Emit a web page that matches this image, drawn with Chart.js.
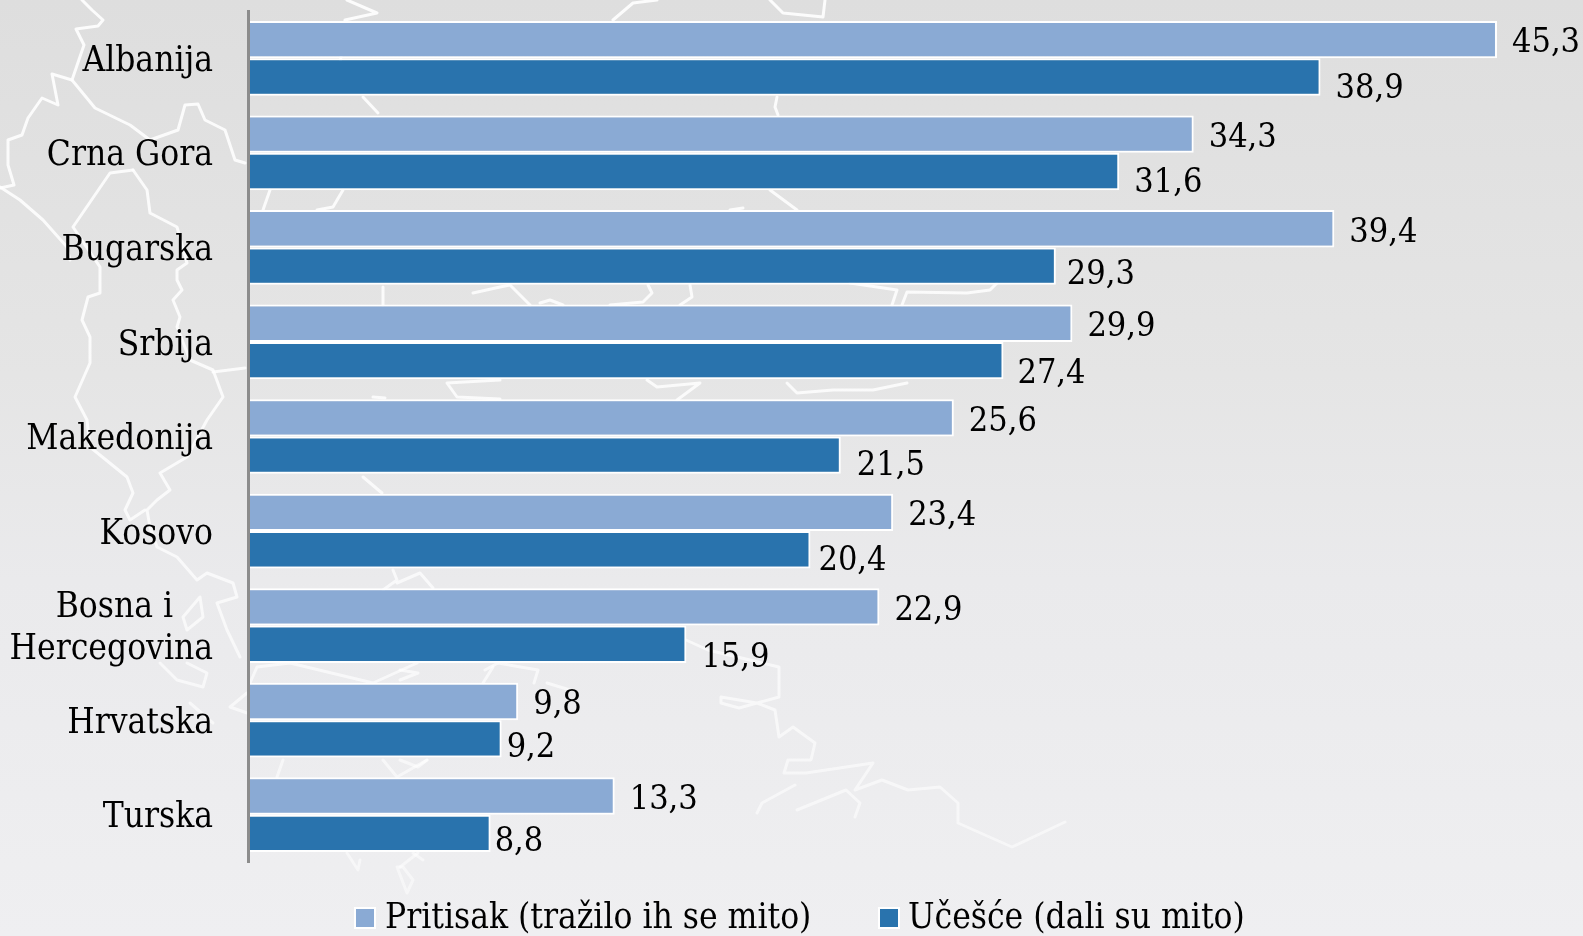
<!DOCTYPE html>
<html>
<head>
<meta charset="utf-8">
<script src="https://cdn.jsdelivr.net/npm/chart.js@4"></script>
<style>
html, body { margin: 0; padding: 0; overflow: hidden; }
body { width: 1583px; height: 936px; background: linear-gradient(#dedede, #e5e5e5 40%, #eaeaec 62%, #efeff1); }
#map, #wrap { position: absolute; left: 0; top: 0; width: 1583px; height: 936px; }
#map { filter: blur(0.6px); }
#map polyline { fill: none; stroke: url(#fade); stroke-width: 3; stroke-linejoin: round; stroke-linecap: round; }
</style>
</head>
<body>
<!-- the faint map behind the chart, only decoration -->
<svg id="map" viewBox="0 0 1583 936">
<defs>
<linearGradient id="fade" gradientUnits="userSpaceOnUse" x1="0" y1="0" x2="0" y2="936">
<stop offset="0" stop-color="#fff" stop-opacity="0.9"/>
<stop offset="0.5" stop-color="#fff" stop-opacity="0.8"/>
<stop offset="1" stop-color="#fff" stop-opacity="0.45"/>
</linearGradient>
</defs>
<polyline points="82,0 92,10 103,20 98,26 76,29 84,45 72,80 52,74 58,105 42,98 28,118 22,135 8,140 8,165 14,185 0,188"/>
<polyline points="72,80 95,108 130,125 150,140 178,130 185,105 198,104 205,120 225,130 235,160 245,163"/>
<polyline points="133,170 110,173 73,227 100,267 100,293 88,297 82,320 90,337 90,363 75,397 87,420 90,447 127,477 133,493 125,510 130,520 145,510"/>
<polyline points="133,170 147,190 150,213 177,227 187,263 177,270 177,280 182,290 173,300 180,317 177,327 190,360 213,370 223,397 207,420 187,457 160,473 170,490 157,500 147,510 150,527 157,547 177,557 197,580 207,573 233,583 237,597 217,603 227,630 240,657"/>
<polyline points="213,372 245,368"/>
<polyline points="0,187 20,200 43,220 67,247 70,260"/>
<polyline points="347,0 377,13 345,20 340,65"/>
<polyline points="363,97 378,113"/>
<polyline points="270,190 263,210"/>
<polyline points="343,190 333,207 317,210"/>
<polyline points="383,287 383,305"/>
<polyline points="473,293 500,287 510,285 530,305"/>
<polyline points="540,303 550,300 563,305"/>
<polyline points="500,380 447,383 457,397 500,399"/>
<polyline points="373,397 385,398"/>
<polyline points="363,477 382,493"/>
<polyline points="200,597 183,617 187,630 203,617 200,597"/>
<polyline points="160,663 177,680 203,687 207,673 187,663"/>
<polyline points="190,703 213,723"/>
<polyline points="247,693 230,707 247,713"/>
<polyline points="393,570 397,580 383,590"/>
<polyline points="397,583 420,573 433,588"/>
<polyline points="250,683 257,667 290,663 373,683 417,663"/>
<polyline points="483,683 493,667"/>
<polyline points="283,760 277,777"/>
<polyline points="383,760 397,777 427,760"/>
<polyline points="347,853 358,870 360,860"/>
<polyline points="397,867 407,893 413,880 403,867 397,867"/>
<polyline points="413,853 423,860"/>
<polyline points="613,20 633,3 657,0"/>
<polyline points="770,0 783,13 823,17 825,0"/>
<polyline points="777,97 775,107 778,115"/>
<polyline points="770,190 797,210"/>
<polyline points="730,210 743,208"/>
<polyline points="610,305 643,302 652,293 648,285"/>
<polyline points="690,285 692,297 680,305"/>
<polyline points="850,283 897,290 892,305"/>
<polyline points="902,305 907,292 967,293 990,290 997,283"/>
<polyline points="647,380 657,387 700,383 677,400"/>
<polyline points="787,383 797,393 833,390 873,390 907,383"/>
<polyline points="686,640 708,650 779,667 779,697 757,703 721,697 721,703 739,708 757,703 775,710 779,737 793,727 815,743 811,760 788,760 784,773 806,773 873,763 855,790 882,780 908,790 940,787 958,803 958,823 1012,847 1065,822"/>
<polyline points="757,813 762,803 795,785"/>
<polyline points="797,810 846,790 860,803 855,817"/>
<polyline points="485,670 498,663 538,670 534,683"/>
<polyline points="547,683 570,690"/>
<polyline points="400,670 418,673 400,680"/>
<polyline points="400,760 418,767 427,760"/>
<polyline points="418,853 400,867"/>
</svg>
<div id="wrap"><canvas id="graph"></canvas></div>
<script>
var categories = ["Albanija", "Crna Gora", "Bugarska", "Srbija", "Makedonija", "Kosovo",
    ["Bosna i", "Hercegovina"], "Hrvatska", "Turska"];
var pritisak = [45.3, 34.3, 39.4, 29.9, 25.6, 23.4, 22.9, 9.8, 13.3];
var ucesce = [38.9, 31.6, 29.3, 27.4, 21.5, 20.4, 15.9, 9.2, 8.8];
var seriesNames = ["Pritisak (tražilo ih se mito)", "Učešće (dali su mito)"];

// the value labels in the original are hand placed, so each one gets a nudge
var nudgeDarkX = [15, 15, 11, 14, 16, 8, 15, 5, 4];
var nudgeDarkY = [12, 12, 9, 14, 11, 11, 14, 9, 9];
var legendBoxX = [356, 880];
var legendTextX = [385, 908];

var fontName = "'DejaVu Serif Condensed'";
var fontSize = 35;
var valueFontSize = 34;
var light = "#8aaad4";
var dark = "#2973ad";

var valueLabels = {
    id: 'valueLabels',
    afterDatasetsDraw: function (chart) {
        var c = chart.ctx;
        c.save();
        c.font = valueFontSize + "px " + fontName;
        c.fillStyle = "#000";
        c.textBaseline = "middle";
        c.textAlign = "left";
        chart.getDatasetMeta(0).data.forEach(function (bar, i) {
            c.fillText(String(pritisak[i]).replace(".", ","), bar.x + 15, bar.y + 4);
        });
        chart.getDatasetMeta(1).data.forEach(function (bar, i) {
            c.fillText(String(ucesce[i]).replace(".", ","), bar.x + nudgeDarkX[i], bar.y + nudgeDarkY[i]);
        });
        // legend, the built in one can't get the box this close to the text
        c.font = fontSize + "px " + fontName;
        seriesNames.forEach(function (name, i) {
            c.fillStyle = "#fff";
            c.fillRect(legendBoxX[i] - 2, 907, 22, 22);
            c.fillStyle = i == 0 ? light : dark;
            c.fillRect(legendBoxX[i], 909, 18, 18);
            c.fillStyle = "#000";
            c.fillText(name, legendTextX[i], 919);
        });
        c.restore();
    }
};

var ctx = document.getElementById("graph").getContext('2d');

var chart = new Chart(ctx, {
    type: 'bar',
    data: {
        labels: categories,
        datasets: [
            { label: seriesNames[0], data: pritisak, backgroundColor: light, borderColor: "#fff", borderWidth: 2, borderSkipped: false },
            { label: seriesNames[1], data: ucesce, backgroundColor: dark, borderColor: "#fff", borderWidth: 2, borderSkipped: false }
        ]
    },
    options: {
        indexAxis: 'y',
        responsive: true,
        maintainAspectRatio: false,
        animation: false,
        categoryPercentage: 0.79,
        barPercentage: 1,
        layout: { padding: { top: 11, bottom: 74 } },
        scales: {
            x: {
                min: 0,
                max: 48.42,
                display: false
            },
            y: {
                afterFit: function (axis) {
                    axis.width = 248;
                    axis.paddingTop = 0;
                    axis.paddingBottom = 0;
                },
                grid: { display: false, drawTicks: false },
                border: { color: "#8c8c8c", width: 3, z: 1 },
                ticks: {
                    color: "#000",
                    font: { family: fontName, size: fontSize, lineHeight: 1.2 },
                    padding: 35,
                    labelOffset: 3.5,
                    autoSkip: false,
                    callback: function (value) {
                        var l = this.getLabelForValue(value);
                        // first line of the two line label sits centred over the second
                        return Array.isArray(l) ? [l[0] + "    ", l[1]] : l;
                    }
                }
            }
        },
        plugins: {
            tooltip: { enabled: false },
            legend: { display: false }
        }
    },
    plugins: [valueLabels]
});
</script>
</body>
</html>
